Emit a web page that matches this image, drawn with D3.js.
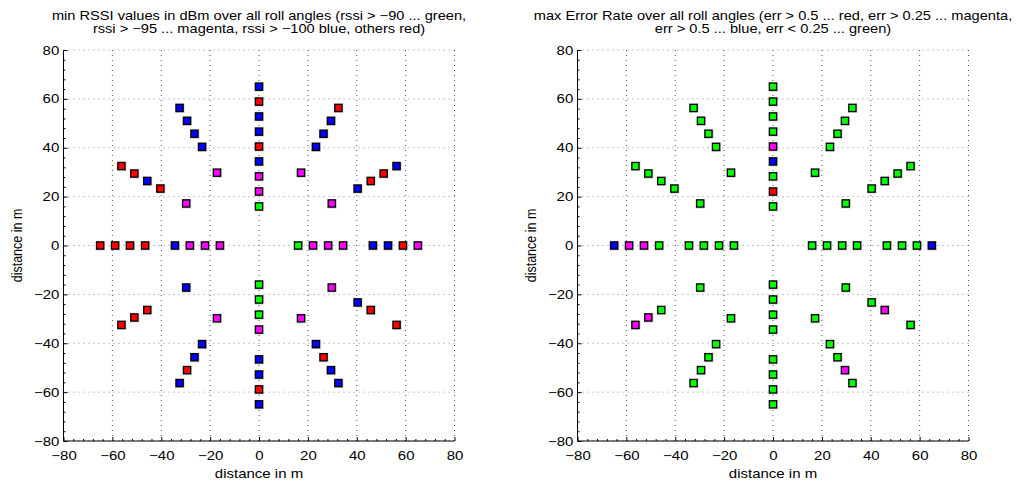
<!DOCTYPE html>
<html>
<head>
<meta charset="utf-8">
<script src="https://cdn.jsdelivr.net/npm/d3@7"></script>
<style>
body{margin:0;background:#fff}
text{font-family:"Liberation Sans",Arial,sans-serif;fill:#000}
</style>
</head>
<body>
<svg id="canvas"></svg>
<script>
let width=1031,height=485

// measurement points: direction (deg) and distance (m)
const angles = [
  0,0,0,0,0,0,0,0,
  30,30,30,30,30,
  60,60,60,60,60,
  90,90,90,90,90,90,90,90,90,
  120,120,120,120,120,
  150,150,150,150,150,
  180,180,180,180,180,180,180,180,
  210,210,210,210,
  240,240,240,240,240,
  270,270,270,270,270,270,270,270,
  300,300,300,300,300,
  330,330,330,330
]
const radii = [
  16,22.1,28.3,34.4,46.6,52.8,58.9,65,
  34.4,46.6,52.8,58.9,65,
  34.4,46.6,52.8,58.9,65,
  16,22.1,28.3,34.4,40.5,46.6,52.8,58.9,65,
  34.4,46.6,52.8,58.9,65,
  34.4,46.6,52.8,58.9,65,
  16,22.1,28.3,34.4,46.6,52.8,58.9,65,
  34.4,52.8,58.9,65,
  34.4,46.6,52.8,58.9,65,
  16,22.1,28.3,34.4,46.6,52.8,58.9,65,
  34.4,46.6,52.8,58.9,65,
  34.4,46.6,52.8,65
]
// class per point: g green, m magenta, b blue, r red
const rssiClass = [
  "g","m","m","m","b","b","r","m",
  "m","b","r","r","b",
  "m","b","b","b","r",
  "g","m","m","b","r","b","b","r","b",
  "m","b","b","b","b",
  "m","r","b","r","r",
  "m","m","m","b","r","r","r","r",
  "b","r","r","r",
  "m","b","b","r","b",
  "g","g","g","m","b","b","r","b",
  "m","b","r","b","b",
  "m","b","r","r"
]
const errClass = [
  "g","g","g","g","g","g","g","b",
  "g","g","g","g","g",
  "g","g","g","g","g",
  "g","r","g","b","m","g","g","g","g",
  "g","g","g","g","g",
  "g","g","g","g","g",
  "g","g","g","g","g","m","m","b",
  "g","g","m","m",
  "g","g","g","g","g",
  "g","g","g","g","g","g","g","g",
  "g","g","g","m","g",
  "g","g","m","g"
]
const tickValues = [-80,-60,-40,-20,0,20,40,60,80]
const minorTicks = [-76,-72,-68,-64,-56,-52,-48,-44,-36,-32,-28,-24,-16,-12,-8,-4,
  4,8,12,16,24,28,32,36,44,48,52,56,64,68,72,76]
const titles = [
  ["min RSSI values in dBm over all roll angles (rssi > \u221290 ... green,",
   "rssi > \u221295 ... magenta, rssi > \u2212100 blue, others red)"],
  ["max Error Rate over all roll angles (err > 0.5 ... red, err > 0.25 ... magenta,",
   "err > 0.5 ... blue, err < 0.25 ... green)"]
]

const classColor = {g:"#00ff00", m:"#ff00ff", b:"#0000ff", r:"#ff0000"}
const stretch = 1.2        // the figure text is drawn wide
const titleStretch = 1.17

let points = angles.map((a,i)=>({
  x: radii[i]*Math.cos(a*Math.PI/180),
  y: radii[i]*Math.sin(a*Math.PI/180),
  rssi: rssiClass[i],
  err: errClass[i]
}))

let svg = d3.select('#canvas').attr("width",width).attr("height",height)

let size=391
let x = d3.scaleLinear().domain([-80,80]).range([0,size])
let y = d3.scaleLinear().domain([-80,80]).range([size,0])

let panels = [{left:63.5, key:"rssi"},{left:577.5, key:"err"}]

panels.forEach((p,pi)=>{
  let g = svg.append("g").attr("transform",`translate(${p.left},50)`)

  // grid
  g.selectAll(".vgrid").data(tickValues).enter().append("line")
    .attr("x1",d=>x(d)).attr("x2",d=>x(d)).attr("y1",0).attr("y2",size)
    .style("stroke","#222").style("stroke-width",0.8).style("stroke-dasharray","1,4")
  g.selectAll(".hgrid").data(tickValues).enter().append("line")
    .attr("x1",0).attr("x2",size).attr("y1",d=>y(d)).attr("y2",d=>y(d))
    .style("stroke","#888").style("stroke-width",1).style("stroke-dasharray","1,4")

  // axes
  let xAxis = g.append("g").attr("transform",`translate(0,${size})`)
    .call(d3.axisBottom(x).tickValues(tickValues).tickSize(-4).tickPadding(10).tickFormat(d3.format("d")))
  let yAxis = g.append("g")
    .call(d3.axisLeft(y).tickValues(tickValues).tickSize(-4).tickPadding(3.5).tickFormat(d3.format("d")))
  g.append("g").attr("transform",`translate(0,${size})`)
    .call(d3.axisBottom(x).tickValues(minorTicks).tickSize(-2).tickFormat(""))
    .select(".domain").remove()
  g.append("g")
    .call(d3.axisLeft(y).tickValues(minorTicks).tickSize(-2).tickFormat(""))
    .select(".domain").remove()
  ;[xAxis,yAxis].forEach(a=>{
    a.selectAll("text").style("font-size","12.5px")
      .style("font-family",'"Liberation Sans",Arial,sans-serif')
      .attr("transform",`scale(${stretch},1)`)
    a.select(".domain").attr("d", a===xAxis ? `M0,0H${size}` : `M0,0V${size}`)
  })

  // labels
  g.append("text").attr("transform",`translate(${size/2},${size+36.5}) scale(${stretch},1)`)
    .attr("text-anchor","middle").style("font-size","12.5px").text("distance in m")
  g.append("text").attr("transform",`translate(-41.5,${size/2}) scale(${stretch},1) rotate(-90)`)
    .attr("text-anchor","middle").style("font-size","12.5px").text("distance in m")
  titles[pi].forEach((t,li)=>{
    g.append("text").attr("transform",`translate(${size/2},${-30.5+li*13.3}) scale(${titleStretch},1)`)
      .attr("text-anchor","middle").style("font-size","12.5px").text(t)
  })

  // markers
  g.selectAll(".halo").data(points).enter().append("rect")
    .attr("x",d=>x(d.x)-4.5).attr("y",d=>y(d.y)-4.5).attr("width",9.5).attr("height",9.5)
    .style("fill","#999").style("opacity",0.45)
  g.selectAll(".pt").data(points).enter().append("rect")
    .attr("x",d=>x(d.x)-3.6).attr("y",d=>y(d.y)-3.6).attr("width",7.2).attr("height",7.2)
    .style("fill",d=>classColor[d[p.key]])
    .style("stroke","#000").style("stroke-width",1.3)
})
</script>
</body>
</html>
